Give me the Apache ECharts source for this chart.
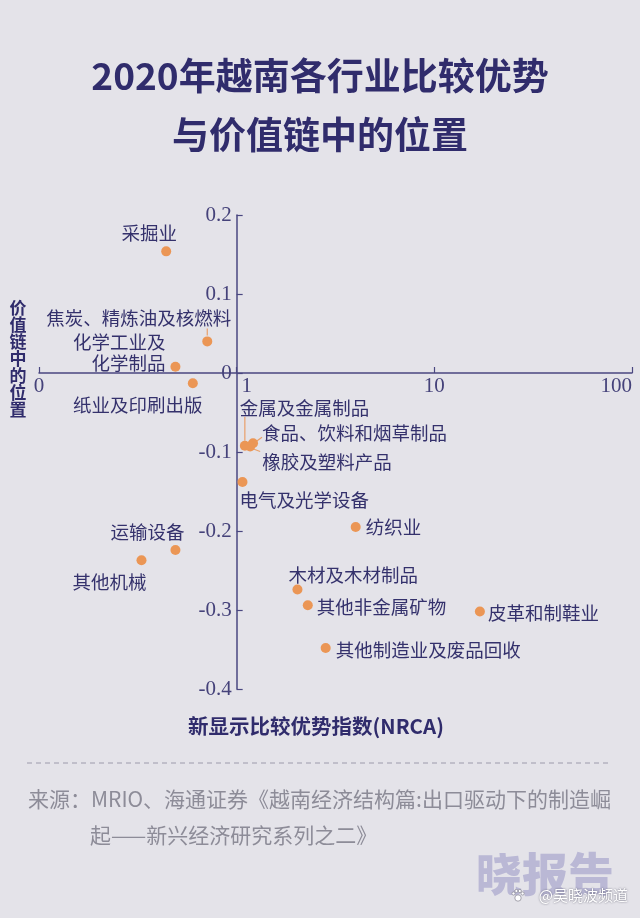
<!DOCTYPE html>
<html>
<head>
<meta charset="utf-8">
<script src="https://cdn.jsdelivr.net/npm/echarts@6/dist/echarts.min.js"></script>
<style>
html,body{margin:0;padding:0;background:#e4e3e9;}
#chart{width:640px;height:918px;}
</style>
</head>
<body>
<div id="chart"></div>
<script>
// ---- data ----
const industries = ['采掘业','焦炭、精炼油及核燃料','化学工业及\n化学制品','纸业及印刷出版','金属及金属制品','食品、饮料和烟草制品','橡胶及塑料产品','电气及光学设备','纺织业','运输设备','其他机械','木材及木材制品','其他非金属矿物','皮革和制鞋业','其他制造业及废品回收'];
const nrca = [0.44, 0.71, 0.49, 0.60, 1.10, 1.21, 1.17, 1.07, 4.0, 0.49, 0.33, 2.03, 2.29, 17.0, 2.82];
const chainPosition = [0.154, 0.040, 0.008, -0.013, -0.092, -0.089, -0.093, -0.138, -0.195, -0.224, -0.237, -0.274, -0.294, -0.302, -0.348];
const xTicks = [0.1, 1, 10, 100];
const xTickLabels = ['0', '1', '10', '100'];
const X_MIN = 0.1, X_MAX = 100, X_CROSS = 1;
const Y_MIN = -0.4, Y_MAX = 0.2, Y_STEP = 0.1, Y_CROSS = 0;

// ---- label placement (styling) ----
const labelPlace = [[-17,-18,'center'],[24,-23,'right'],[-10,-14,'right'],[-55,22,'center'],[-5,-38,'left'],[9,-10,'left'],[12,15,'left'],[-3,18,'left'],[10,0,'left'],[9,-18,'right'],[-32,22,'center'],[-9,-14,'left'],[9,2,'left'],[8,1,'left'],[10,2,'left']];
const leaders = {1:[[0,-13],[0,-6]], 4:[[0,-29],[0,-5]], 5:[[9,-6],[2,-1]], 6:[[10,5],[2,2]]};

const GRID_L = 39, GRID_R = 8, GRID_T = 215, GRID_B = 229;
const gridW = 640 - GRID_L - GRID_R;
const gridH = 918 - GRID_T - GRID_B;
const yOffset = -gridW * (Math.log10(X_CROSS) - Math.log10(X_MIN)) / (Math.log10(X_MAX) - Math.log10(X_MIN));
const xOffset = -gridH * (Y_CROSS - Y_MIN) / (Y_MAX - Y_MIN);
const navy = '#302c6c';
const axisColor = '#4a4780';

const chart = echarts.init(document.getElementById('chart'), null, {renderer:'canvas'});
const points = nrca.map((v,i) => ({value:[v, chainPosition[i]], name: industries[i]}));
const leaderData = Object.keys(leaders).map(k => [nrca[+k], chainPosition[+k], +k]);

chart.setOption({
  backgroundColor:'#e4e3e9',
  animation:false,
  grid:{left:GRID_L, right:GRID_R, top:GRID_T, bottom:GRID_B},
  xAxis:{
    type:'log', logBase:10, min:X_MIN, max:X_MAX,
    offset:xOffset,
    axisLine:{onZero:false, lineStyle:{color:axisColor, width:1.5}},
    axisTick:{show:true, inside:true, length:6, lineStyle:{color:axisColor, width:1.2}},
    axisLabel:{
      margin:3, fontFamily:'Liberation Serif', fontSize:21, color:'#45427a',
      alignMaxLabel:'right',
      formatter:(v)=>{
        const k = xTicks.findIndex(t=>Math.abs(t-v)/t<1e-6);
        if (k < 0) return '';
        return xTicks[k] === X_CROSS ? '{cross|' + xTickLabels[k] + '}' : xTickLabels[k];
      },
      rich:{cross:{fontFamily:'Liberation Serif', fontSize:21, color:'#45427a', padding:[0,0,0,20]}}
    },
    splitLine:{show:false}
  },
  yAxis:{
    type:'value', min:Y_MIN, max:Y_MAX, interval:Y_STEP,
    offset:yOffset,
    axisLine:{show:true, onZero:false, lineStyle:{color:axisColor, width:1.5}},
    axisTick:{show:true, inside:true, length:6, lineStyle:{color:axisColor, width:1.2}},
    axisLabel:{margin:5, fontFamily:'Liberation Serif', fontSize:21, color:'#45427a',
      formatter:(v)=>{ const r = Math.round(v*10)/10; return r===0?'0':String(r); }},
    splitLine:{show:false}
  },
  series:[{
    type:'custom',
    silent:true,
    z:1,
    data:leaderData,
    renderItem:function(params, api){
      const pt = api.coord([api.value(0), api.value(1)]);
      const seg = leaders[api.value(2)];
      return {type:'polyline', shape:{points:seg.map(q=>[pt[0]+q[0], pt[1]+q[1]])}, style:{stroke:'#e9a06a', lineWidth:1.2, fill:null}};
    }
  },{
    type:'scatter',
    symbolSize:10,
    silent:true,
    z:3,
    itemStyle:{color:'#eb9655', opacity:1},
    data:points,
    label:{
      show:true,
      formatter:(p)=>industries[p.dataIndex],
      fontFamily:'Noto Sans CJK SC', fontSize:18.5, color:'#34316c', lineHeight:21
    },
    labelLayout:function(params){
      const p = labelPlace[params.dataIndex];
      const cx = params.rect.x + params.rect.width/2, cy = params.rect.y + params.rect.height/2;
      return {x:cx+p[0], y:cy+p[1], align:p[2], verticalAlign:'middle'};
    },
    emphasis:{disabled:true}
  }],
  graphic:[
    {type:'text', left:'center', top:57, style:{text:'2020年越南各行业比较优势', font:'bold 37px "Noto Sans CJK SC"', fill:navy}},
    {type:'text', left:'center', top:116, style:{text:'与价值链中的位置', font:'bold 37px "Noto Sans CJK SC"', fill:navy}},
    {type:'text', x:18, y:359, style:{text:'价\n值\n链\n中\n的\n位\n置', font:'bold 17px "Noto Sans CJK SC"', lineHeight:17, fill:navy, align:'center', verticalAlign:'middle'}},
    {type:'text', x:316, y:726, style:{text:'新显示比较优势指数(NRCA)', font:'bold 20.5px "Noto Sans CJK SC"', fill:navy, align:'center', verticalAlign:'middle'}},
    {type:'line', shape:{x1:27, y1:763, x2:612, y2:763}, style:{stroke:'#9c9aab', lineWidth:1, lineDash:[5,4]}},
    {type:'text', x:28, y:799, style:{text:'来源：MRIO、海通证券《越南经济结构篇:出口驱动下的制造崛', font:'21px "Noto Sans CJK SC"', fill:'#8d8c98', verticalAlign:'middle'}},
    {type:'text', x:90, y:835, style:{text:'起——新兴经济研究系列之二》', font:'21px "Noto Sans CJK SC"', fill:'#8d8c98', verticalAlign:'middle'}},
    {type:'text', x:545, y:874, style:{text:'晓报告', font:'900 46px "Noto Sans CJK SC"', fill:'#bab8d5', align:'center', verticalAlign:'middle'}},
    {type:'group', x:518, y:896, children:[
      {type:'circle', shape:{cx:0, cy:2, r:3.2}, style:{fill:'#ffffff', stroke:'#8f8e9b', lineWidth:0.8}},
      {type:'circle', shape:{cx:-4.5, cy:-2.5, r:1.6}, style:{fill:'#ffffff', stroke:'#8f8e9b', lineWidth:0.8}},
      {type:'circle', shape:{cx:-1.6, cy:-5, r:1.6}, style:{fill:'#ffffff', stroke:'#8f8e9b', lineWidth:0.8}},
      {type:'circle', shape:{cx:1.8, cy:-5, r:1.6}, style:{fill:'#ffffff', stroke:'#8f8e9b', lineWidth:0.8}},
      {type:'circle', shape:{cx:4.6, cy:-2.5, r:1.6}, style:{fill:'#ffffff', stroke:'#8f8e9b', lineWidth:0.8}}
    ]},
    {type:'text', x:628, y:895, style:{text:'@吴晓波频道', font:'15px "Noto Sans CJK SC"', fill:'#ffffff', textShadowColor:'rgba(60,60,80,0.75)', textShadowBlur:2, align:'right', verticalAlign:'middle'}}
  ]
});
</script>
</body>
</html>
